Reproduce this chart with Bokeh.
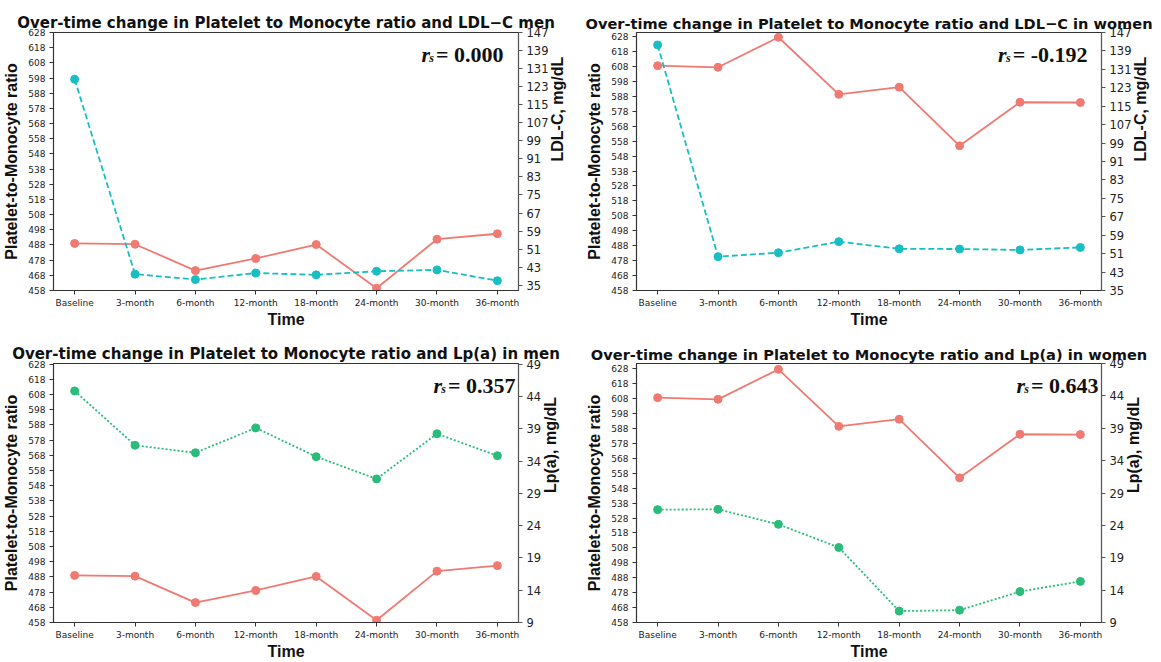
import math
from bokeh.plotting import figure
from bokeh.models import Range1d, LinearAxis, FixedTicker, Label
from bokeh.layouts import column, row
from bokeh.embed import file_html
from bokeh.resources import INLINE

# ---------------- data ----------------
categories = ["Baseline", "3-month", "6-month", "12-month",
              "18-month", "24-month", "30-month", "36-month"]

pmr_men = [489.0, 488.5, 471.1, 479.1, 488.3, 459.5, 491.8, 495.4]
pmr_women = [608.6, 607.5, 627.6, 589.4, 594.2, 554.9, 584.1, 583.9]

ldl_men = [126.3, 39.9, 37.5, 40.4, 39.6, 41.2, 41.8, 37.0]
ldl_women = [141.6, 49.7, 51.4, 56.2, 53.1, 53.0, 52.6, 53.7]

lpa_men = [44.85, 36.44, 35.28, 39.13, 34.67, 31.23, 38.22, 34.82]
lpa_women = [26.43, 26.48, 24.16, 20.59, 10.76, 10.91, 13.78, 15.35]

pmr_ticks = [458, 468, 478, 488, 498, 508, 518, 528, 538, 548,
             558, 568, 578, 588, 598, 608, 618, 628]
ldl_ticks = [35, 43, 51, 59, 67, 75, 83, 91, 99, 107, 115, 123, 131, 139, 147]
lpa_ticks = [9, 14, 19, 24, 29, 34, 39, 44, 49]

rs_values = ["0.000", "-0.192", "0.357", "0.643"]

titles = [
    "Over-time change in Platelet to Monocyte ratio and LDL\u2212C men",
    "Over-time change in Platelet to Monocyte ratio and LDL\u2212C in women",
    "Over-time change in Platelet to Monocyte ratio and Lp(a) in men",
    "Over-time change in Platelet to Monocyte ratio and Lp(a) in women",
]

# ---------------- style ----------------
SALMON = "#F07A72"
TEAL = "#19BEC2"
GREEN = "#29BC7A"
DARK = "#333333"

SERIF_W = {"0": .5, "1": .5, "2": .5, "3": .5, "4": .5, "5": .5, "6": .5,
           "7": .5, "8": .5, "9": .5, ".": .25, "-": .333, "=": .570,
           " ": .25}


def text_w(s, fs):
    return sum(SERIF_W.get(c, .5) for c in s) * fs


def make_panel(title, title_fs, pmr, pmr_range, sec, sec_range, sec_ticks,
               sec_label, sec_color, sec_dash, rs, rs_pad,
               w, h, bl, br, bt, bb):
    xs = list(range(len(categories)))
    p = figure(width=w, height=h, x_range=Range1d(-0.35, 7.35),
               y_range=Range1d(*pmr_range), output_backend="svg",
               toolbar_location=None, min_border_left=bl, min_border_right=br,
               min_border_top=bt, min_border_bottom=bb)
    p.extra_y_ranges = {"sec": Range1d(*sec_range)}
    p.xgrid.visible = False
    p.ygrid.visible = False
    p.outline_line_color = DARK
    p.outline_line_width = 1.2
    p.background_fill_color = "white"
    p.border_fill_color = "white"

    p.title.text = title
    p.title.text_font = "DejaVu Sans"
    p.title.text_font_style = "bold"
    p.title.text_font_size = f"{title_fs}px"
    p.title.align = "center"
    p.title.standoff = 2
    p.title.text_color = "#111111"

    # x axis
    xa = p.xaxis[0]
    xa.ticker = FixedTicker(ticks=xs)
    xa.major_label_overrides = {i: c for i, c in enumerate(categories)}
    xa.major_label_text_font = "DejaVu Sans"
    xa.major_label_text_font_size = "9px"
    xa.major_label_text_color = "#222222"
    xa.major_label_standoff = 3
    xa.major_tick_in = 0
    xa.major_tick_out = 4
    xa.minor_tick_line_color = None
    xa.axis_line_color = DARK
    xa.major_tick_line_color = DARK
    xa.axis_label = "Time"
    xa.axis_label_text_font = "Liberation Sans"
    xa.axis_label_text_font_style = "bold"
    xa.axis_label_text_font_size = "16px"
    xa.axis_label_text_color = "#111111"
    xa.axis_label_standoff = 0

    # left y axis
    ya = p.yaxis[0]
    ya.ticker = FixedTicker(ticks=pmr_ticks)
    ya.major_label_text_font = "DejaVu Sans"
    ya.major_label_text_font_size = "9px"
    ya.major_label_text_color = "#222222"
    ya.major_label_standoff = 4
    ya.major_tick_in = 0
    ya.major_tick_out = 4
    ya.minor_tick_line_color = None
    ya.axis_line_color = DARK
    ya.major_tick_line_color = DARK
    ya.axis_label = "Platelet-to-Monocyte ratio"
    ya.axis_label_text_font = "Liberation Sans"
    ya.axis_label_text_font_style = "bold"
    ya.axis_label_text_font_size = "16px"
    ya.axis_label_text_color = "#111111"
    ya.axis_label_standoff = 5

    # right y axis
    ra = LinearAxis(y_range_name="sec", ticker=FixedTicker(ticks=sec_ticks))
    ra.major_label_text_font = "DejaVu Sans"
    ra.major_label_text_font_size = "11.5px"
    ra.major_label_text_color = "#222222"
    ra.major_label_standoff = 4
    ra.major_tick_in = 0
    ra.major_tick_out = 4
    ra.minor_tick_line_color = None
    ra.axis_line_color = "#555555"
    ra.major_tick_line_color = "#555555"
    ra.axis_label = sec_label
    ra.axis_label_text_font = "Liberation Sans"
    ra.axis_label_text_font_style = "bold"
    ra.axis_label_text_font_size = "16px"
    ra.axis_label_text_color = "#111111"
    ra.axis_label_standoff = 6
    ra.axis_label_orientation = math.pi / 2
    p.add_layout(ra, "right")

    # series
    p.line(xs, pmr, line_color=SALMON, line_width=1.8)
    p.scatter(xs, pmr, size=8, fill_color=SALMON, line_color=SALMON)
    p.line(xs, sec, y_range_name="sec", line_color=sec_color,
           line_width=1.8, line_dash=sec_dash)
    p.scatter(xs, sec, y_range_name="sec", size=8, fill_color=sec_color,
              line_color=sec_color)

    # r_s annotation
    fs = 22
    main = "= " + rs
    wm = text_w(main, fs)
    common = dict(x=7.35, y=pmr_range[1], text_align="right",
                  text_baseline="alphabetic", text_font="Liberation Serif",
                  text_color="#111111")
    p.add_layout(Label(text=main, x_offset=-rs_pad, y_offset=-22,
                       text_font_size=f"{fs}px", text_font_style="bold",
                       **common))
    p.add_layout(Label(text="s", x_offset=-(rs_pad + wm + 2), y_offset=-25,
                       text_font_size="12px", text_font_style="bold italic",
                       **common))
    p.add_layout(Label(text="r", x_offset=-(rs_pad + wm + 6), y_offset=-22,
                       text_font_size=f"{fs}px", text_font_style="bold italic",
                       **common))
    return p


p1 = make_panel(titles[0], 15, pmr_men, (458, 628), ldl_men, (32.66, 147),
                ldl_ticks, "LDL-C, mg/dL", TEAL, "6 3", rs_values[0], 15,
                580, 330, 52, 62, 31, 35)
p2 = make_panel(titles[1], 14.6, pmr_women, (458, 630.8), ldl_women, (35, 147),
                ldl_ticks, "LDL-C, mg/dL", TEAL, "6 3", rs_values[1], 14,
                581, 330, 56, 60, 32, 35)
p3 = make_panel(titles[2], 15, pmr_men, (458, 628.4), lpa_men, (9, 49.1),
                lpa_ticks, "Lp(a), mg/dL", GREEN, "2 2", rs_values[2], 3,
                580, 332, 52, 62, 32, 36)
p4 = make_panel(titles[3], 14.6, pmr_women, (458, 631.5), lpa_women, (9, 49),
                lpa_ticks, "Lp(a), mg/dL", GREEN, "2 2", rs_values[3], 3,
                581, 332, 56, 60, 33, 35)

layout = column(row(p1, p2), row(p3, p4))
open("out.html", "w").write(file_html(layout, INLINE))
